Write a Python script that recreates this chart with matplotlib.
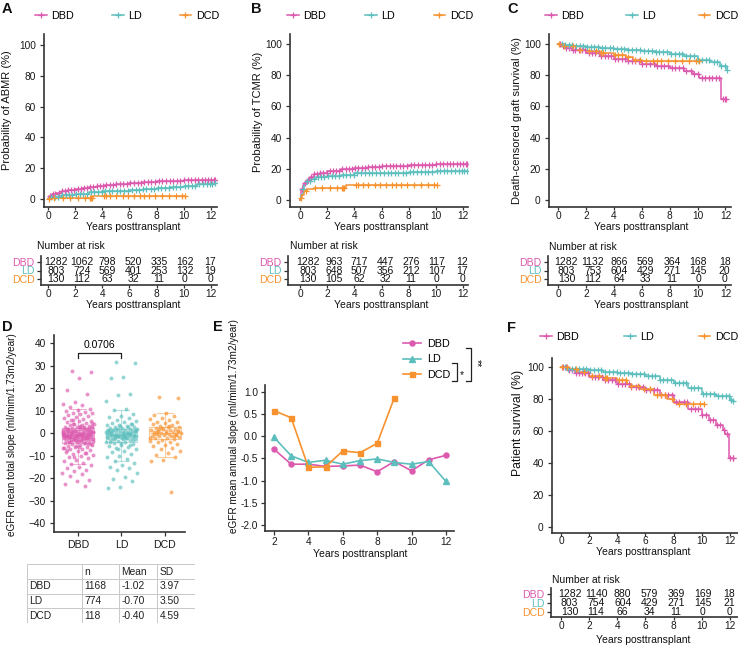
import numpy as np
import matplotlib
matplotlib.use("Agg")
import matplotlib.pyplot as plt
from matplotlib.lines import Line2D

plt.rcParams['font.family'] = ['Liberation Sans', 'DejaVu Sans']
FS = 7.5
W, H = 738, 645

GROUPS = ["DBD", "LD", "DCD"]
COLORS = ["#DC5AAE", "#5CBFBD", "#F7922F"]

# ---- KM curves: step times / values ----
A_T = [[0, 0.1, 0.3, 0.6, 1.0, 1.5, 2.0, 2.5, 3.0, 3.6, 4.2, 5.0, 6.0, 7.0, 8.0, 9.0, 10.0, 11.0, 12.3],
       [0, 0.2, 0.5, 1.0, 1.5, 2.0, 3.0, 4.0, 5.0, 6.0, 7.0, 8.0, 9.0, 10.0, 11.0, 12.3],
       [0, 0.3, 3.3, 10.1]]
A_S = [[0, 2.0, 3.0, 4.0, 5.0, 6.0, 6.8, 7.4, 8.0, 8.7, 9.3, 10.0, 10.5, 11.0, 11.5, 12.0, 12.3, 12.5, 12.5],
       [0, 1.0, 1.6, 2.3, 2.9, 3.5, 4.3, 5.0, 5.5, 6.0, 6.5, 7.1, 7.8, 8.6, 9.6, 10.2],
       [0, 0.8, 2.0, 2.0]]

B_T = [[0, 0.05, 0.1, 0.2, 0.3, 0.5, 0.7, 1.0, 1.5, 2.0, 3.0, 4.0, 5.0, 6.0, 8.0, 10.0, 12.3],
       [0, 0.05, 0.1, 0.2, 0.3, 0.5, 0.8, 1.2, 2.0, 3.0, 4.0, 6.0, 8.0, 10.0, 12.3],
       [0, 0.05, 0.15, 0.3, 0.5, 1.0, 1.5, 3.4, 10.1]]
B_S = [[0, 3, 7, 9.6, 11, 13, 15, 16.5, 17.6, 18.5, 19.6, 20.3, 21.0, 21.8, 22.5, 22.9, 23.1],
       [0, 1, 3, 7, 10, 12, 13.5, 14.5, 15.5, 16.3, 17.0, 17.6, 18.2, 18.8, 18.8],
       [0, 1.5, 3.0, 5.5, 7.0, 7.5, 8.0, 9.6, 9.6]]

C_T = [[0, 0.2, 0.5, 1.0, 2.0, 3.0, 4.0, 5.0, 6.0, 7.0, 8.0, 9.0, 9.7, 10.1, 11.65, 12.05],
       [0, 0.5, 1.1, 2.0, 3.0, 4.0, 5.0, 6.0, 7.0, 8.0, 9.0, 10.0, 10.9, 11.6, 12.1],
       [0, 0.3, 0.6, 1.3, 2.0, 3.0, 4.0, 4.9, 5.4, 6.0, 10.1]]
C_S = [[100, 98.5, 97.3, 96, 94.2, 92.5, 90.4, 88.9, 87.2, 85.7, 84.6, 83, 80.5, 78.5, 65, 65],
       [100, 99.3, 98.9, 98.2, 97.4, 96.9, 96.4, 95.3, 94.6, 93.6, 92.5, 89.9, 88.2, 85.7, 83.5],
       [100, 99, 98.5, 96.4, 95.3, 94.2, 93.1, 91.6, 89.9, 88.8, 88.8]]

F_T = [[0, 0.5, 1, 2, 3, 4, 5, 6, 7, 8, 9, 10, 10.5, 11, 11.5, 11.65, 11.95, 12.25],
       [0, 0.5, 1, 2, 3, 4, 5, 6, 7, 8, 9, 10, 11, 12, 12.25],
       [0, 0.6, 1.2, 2, 3, 4, 4.7, 5.0, 5.6, 6.6, 7.5, 8.0, 8.3, 10.15]]
F_S = [[100, 98.3, 96.5, 93.8, 91.7, 89.6, 87.5, 85.4, 82.3, 78.1, 74, 69.8, 67, 63.5, 60.4, 58, 43, 43],
       [100, 99, 98.5, 97.9, 97, 96.2, 95.5, 94.4, 92.1, 90, 87, 83.3, 81.7, 79.2, 78.5],
       [100, 99, 97, 94.4, 93.3, 91.7, 89.6, 87.9, 86.5, 82.3, 80.2, 77.5, 76.7, 76.7]]

# censoring times (same cohorts in every panel)
CENS = [[0.15, 0.35, 0.55, 0.8, 1.05, 1.25, 1.5, 1.7, 1.95, 2.2, 2.4, 2.65, 2.9, 3.1, 3.35, 3.6, 3.8,
         4.05, 4.3, 4.55, 4.8, 5.0, 5.3, 5.55, 5.8, 6.05, 6.3, 6.6, 6.85, 7.1, 7.35, 7.6, 7.9, 8.15,
         8.4, 8.7, 8.95, 9.2, 9.5, 9.75, 10.0, 10.3, 10.55, 10.8, 11.05, 11.3, 11.55, 11.8, 12.0, 12.2],
        [0.25, 0.5, 0.75, 1.0, 1.3, 1.55, 1.8, 2.05, 2.35, 2.6, 2.85, 3.15, 3.4, 3.7, 3.95, 4.2, 4.5,
         4.75, 5.05, 5.3, 5.6, 5.9, 6.15, 6.45, 6.7, 7.0, 7.25, 7.55, 7.8, 8.1, 8.35, 8.65, 8.9, 9.2,
         9.45, 9.75, 10.05, 10.3, 10.6, 10.85, 11.15, 11.4, 11.7, 11.95, 12.1],
        [0.1, 0.45, 1.1, 1.6, 2.2, 2.7, 3.1, 3.2, 3.25, 4.1, 4.3, 4.6, 5.0, 5.5, 5.9, 6.3, 6.8, 7.1,
         7.4, 7.9, 8.4, 8.9, 9.4, 9.9]]

RISK_T = [0, 2, 4, 6, 8, 10, 12]
A_RISK = [[1282, 1062, 798, 520, 335, 162, 17], [803, 724, 569, 401, 253, 132, 19], [130, 112, 63, 32, 11, 0, 0]]
B_RISK = [[1282, 963, 717, 447, 276, 117, 12], [803, 648, 507, 356, 212, 107, 17], [130, 105, 62, 32, 11, 0, 0]]
C_RISK = [[1282, 1132, 866, 569, 364, 168, 18], [803, 753, 604, 429, 271, 145, 20], [130, 112, 64, 33, 11, 0, 0]]
F_RISK = [[1282, 1140, 880, 579, 369, 169, 18], [803, 754, 604, 429, 271, 145, 21], [130, 114, 66, 34, 11, 0, 0]]

# ---- D: eGFR total slope per patient ----
DBD_SLOPE = [27.6, 27.1, 24.3, 19.2, 17.4, 13.6, 13.1, 12.4, 11.7, 10.9, 10.4, 10.0, 9.5, 9.1, 8.7, 8.3, 7.9, 7.4, 7.0, 6.6,
             6.2, 5.9, 5.5, 5.2, 4.8, 4.5, 4.2, 3.9, 3.6, 3.4, 3.1, 2.9, 2.7, 2.5, 2.3, 2.1, 1.9, 1.8, 1.6, 1.5,
             1.3, 1.2, 1.0, 0.9, 0.8, 0.6, 0.5, 0.4, 0.3, 0.2, 0.1, 0.0, -0.1, -0.2, -0.3, -0.4, -0.5, -0.6, -0.7, -0.8,
             -0.9, -1.0, -1.1, -1.2, -1.3, -1.4, -1.5, -1.6, -1.7, -1.8, -1.9, -2.0, -2.1, -2.2, -2.3, -2.4, -2.5, -2.7, -2.8, -3.0,
             -3.1, -3.3, -3.5, -3.6, -3.8, -4.0, -4.2, -4.4, -4.6, -4.9, -5.1, -5.4, -5.7, -6.0, -6.3, -6.6, -7.0, -7.3, -7.7, -8.1,
             -8.5, -8.9, -9.3, -9.8, -10.3, -10.8, -11.3, -11.9, -12.5, -13.1, -13.7, -14.3, -15.0, -15.6, -16.3, -17.0, -17.6, -18.3,
             -19.1, -21.0, -21.5, -22.7, -23.6,
             4.0, 3.3, 2.6, 2.0, 1.4, 0.95, 0.55, 0.15, -0.25, -0.65, -1.05, -1.45, -1.85, -2.25, -2.65, -3.2, -3.9, -4.7, -5.6, -6.8,
             2.2, 1.1, 0.35, -0.45, -1.25, -2.05, -2.95, -0.05, -0.85, -1.65, 0.7, -3.4, 1.7, -4.3,
             5.7, 4.4, 3.0, 1.0, -0.35, -1.15, -1.95, -2.6, -3.7, -5.0, -6.2, -7.5, -9.0, -10.6, 0.45, -0.75, -1.55, 2.4]
LD_SLOPE = [31.5, 31.1, 24.8, 24.4, 17.4, 17.0, 14.1, 10.6, 10.2, 8.6, 7.8, 7.2, 6.6, 6.0, 5.5, 5.0, 4.6, 4.2, 3.8, 3.5,
            3.2, 2.9, 2.6, 2.4, 2.2, 2.0, 1.8, 1.6, 1.4, 1.2, 1.0, 0.9, 0.7, 0.6, 0.4, 0.3, 0.1, 0.0, -0.1, -0.3,
            -0.4, -0.5, -0.7, -0.8, -0.9, -1.0, -1.2, -1.3, -1.4, -1.5, -1.7, -1.8, -1.9, -2.1, -2.2, -2.4, -2.6, -2.8, -3.0, -3.2,
            -3.5, -3.8, -4.1, -4.4, -4.8, -5.2, -5.6, -6.1, -6.6, -7.2, -7.8, -8.5, -9.2, -10.0, -10.8, -11.6, -12.4, -13.3, -14.2, -15.0,
            -15.6, -16.4, -17.6, -19.4, -20.5, -21.1, -23.9, -24.3,
            2.7, 1.9, 1.1, 0.5, -0.2, -0.6, -1.1, -1.6, -2.0, -2.5, -3.3, -4.6, 0.25, -0.35, -1.35, 1.5, -0.95, 0.8,
            4.0, 3.0, 1.3, -0.05, -0.75, -1.45, -2.3, -3.9, -5.4, -7.0, 0.65, -1.75]
DCD_SLOPE = [15.9, 15.6, 8.8, 8.1, 7.4, 6.8, 6.1, 5.6, 5.1, 4.7, 4.3, 3.9, 3.5, 3.2, 2.9, 2.6, 2.3, 2.0, 1.8, 1.5,
             1.3, 1.1, 0.9, 0.7, 0.5, 0.3, 0.1, -0.1, -0.3, -0.5, -0.7, -0.9, -1.1, -1.3, -1.5, -1.8, -2.1, -2.4, -2.7, -3.0,
             -3.4, -3.8, -4.2, -4.7, -5.2, -5.8, -6.5, -7.3, -8.0, -8.7, -9.6, -10.6, -12.1, -12.6, -26.4,
             1.6, 0.8, 0.0, -0.6, -1.2, 2.4, -2.0, 3.0, 0.4, -0.4]
D_PVAL = "0.0706"

TABLE_HEAD = ["", "n", "Mean", "SD"]
TABLE_ROWS = [["DBD", "1168", "-1.02", "3.97"],
              ["LD", "774", "-0.70", "3.50"],
              ["DCD", "118", "-0.40", "4.59"]]

# ---- E: mean annual slope by year ----
E_YEARS = [[2, 3, 4, 5, 6, 7, 8, 9, 10, 11, 12],
           [2, 3, 4, 5, 6, 7, 8, 9, 10, 11, 12],
           [2, 3, 4, 5, 6, 7, 8, 9]]
E_VALS = [[-0.29, -0.63, -0.63, -0.68, -0.67, -0.65, -0.80, -0.57, -0.78, -0.53, -0.43],
          [-0.02, -0.44, -0.59, -0.54, -0.63, -0.55, -0.51, -0.59, -0.63, -0.57, -1.02],
          [0.58, 0.42, -0.70, -0.69, -0.33, -0.37, -0.16, 0.87]]
E_MARKERS = ["o", "^", "s"]

fig = plt.figure(figsize=(W / 100, H / 100), dpi=100)
over = fig.add_axes([0, 0, 1, 1])
over.set_xlim(0, W)
over.set_ylim(H, 0)
over.axis("off")
over.patch.set_alpha(0)


def add_ax(l, t, r, b):
    return fig.add_axes([l / W, 1 - b / H, (r - l) / W, (b - t) / H])


def ptext(x, y, s, **kw):
    kw.setdefault("fontsize", FS)
    kw.setdefault("va", "center")
    kw.setdefault("color", "#111111")
    over.text(x, y, s, **kw)


def style(ax, pad=1.5):
    for s in ["top", "right"]:
        ax.spines[s].set_visible(False)
    for s in ["left", "bottom"]:
        ax.spines[s].set_color("#333333")
        ax.spines[s].set_linewidth(1.2)
    ax.tick_params(length=3, width=0.9, color="#333333", labelsize=7.3, pad=pad, labelcolor="#1a1a1a")


def km_panel(letter, letter_xy, box, xlim, ylim, T, S, ylabel, ylab_xy, ylab_fs, ptxt, p_xy,
             leg_l, leg_r, leg_y, rbox, rylim, risk, title_xy, xlab_y, rxlab_y, xlab_x, xpad=0.5):
    ax = add_ax(*box)
    style(ax)
    ax.tick_params(axis="y", pad=3)
    ax.tick_params(axis="x", pad=xpad, length=2.5)
    for i in range(3):
        t = np.asarray(T[i], float)
        s = np.asarray(S[i], float)
        ax.step(t, s, where="post", color=COLORS[i], lw=1.1, zorder=3)
        c = np.array([x for x in CENS[i] if x < t[-1]] + [t[-1]])
        idx = np.searchsorted(t, c, side="right") - 1
        ax.plot(c, s[idx], ls="none", marker="+", ms=5, mew=0.9, color=COLORS[i], zorder=4)
    ax.set_xlim(*xlim)
    ax.set_ylim(*ylim)
    ax.set_xticks(RISK_T)
    ax.set_yticks([0, 20, 40, 60, 80, 100])
    ptext(ylab_xy[0], ylab_xy[1], ylabel, rotation=90, ha="center", fontsize=ylab_fs)
    ptext(xlab_x, xlab_y, "Years posttransplant", ha="center")
    ptext(p_xy[0], p_xy[1], ptxt, ha="left", fontsize=7.8)
    ptext(letter_xy[0], letter_xy[1], letter, ha="left", fontsize=10.5, fontweight="bold")
    handles = [Line2D([0], [0], color=COLORS[i], lw=1.1, marker="+", ms=5, mew=0.9) for i in range(3)]
    fig.legend(handles, GROUPS, ncol=3, mode="expand", loc="center left",
               bbox_to_anchor=(leg_l / W, 1 - leg_y / H, (leg_r - leg_l) / W, 0),
               frameon=False, fontsize=7.8, handlelength=1.1, handletextpad=0.4,
               borderaxespad=0, borderpad=0, columnspacing=0.5)
    # number at risk table
    rax = add_ax(*rbox)
    style(rax)
    rax.tick_params(axis="x", pad=0.3, length=2.5)
    rax.set_xlim(xlim[0] + (rbox[0] - box[0]) * (xlim[1] - xlim[0]) / (box[2] - box[0]), xlim[1])
    rax.set_ylim(*rylim)
    rax.set_xticks(RISK_T)
    rax.set_yticks([3, 2, 1])
    rax.set_yticklabels(GROUPS)
    for lab, col in zip(rax.get_yticklabels(), COLORS):
        lab.set_color(col)
        lab.set_fontsize(7.6)
    for i in range(3):
        for t, n in zip(RISK_T, risk[i]):
            rax.text(0.6 + t * 0.945, 3 - i, str(n), ha="center", va="center", fontsize=7.5, color="#111111")
    ptext(title_xy[0], title_xy[1], "Number at risk", ha="left")
    ptext(xlab_x, rxlab_y, "Years posttransplant", ha="center")
    return ax


km_panel("A", (2, 9), (44, 34, 217, 207), (-0.29, 12.44), (-5.2, 107.1), A_T, A_S,
         "Probability of ABMR (%)", (7, 110), 8.0, "p = 0.0016", (48, 153),
         35, 219, 16, (41, 256, 217, 285), (0.3, 3.7), A_RISK, (37, 246), 227, 305, 133)
km_panel("B", (251, 9), (290, 34, 468, 207), (-0.74, 12.37), (-4.5, 106.4), B_T, B_S,
         "Probability of TCMR (%)", (258, 112), 8.0, "p = 0.0076", (307, 133),
         287, 473, 16, (288, 256, 468, 285), (0.3, 3.7), B_RISK, (290, 246), 227, 305, 381)
km_panel("C", (507, 9), (549, 34, 731, 207), (-0.65, 12.4), (-4.5, 106.4), C_T, C_S,
         "Death-censored graft survival (%)", (517, 121), 8.0, "p < 0.0001", (560, 171),
         545, 738, 16, (548, 256, 731, 285), (0.3, 3.7), C_RISK, (549, 247), 227, 305, 641)
km_panel("F", (507, 328), (552, 358, 738, 533), (-0.64, 12.57), (-3.75, 105.6), F_T, F_S,
         "Patient survival (%)", (518, 423), 8.8, "p < 0.0001", (563, 496),
         540, 738, 337, (551, 588, 738, 617), (0.44, 3.67), F_RISK, (552, 580), 552, 640, 643, xpad=0)

# ---- D ----
axd = add_ax(54, 335, 185, 532)
style(axd)
slopes = [DBD_SLOPE, LD_SLOPE, DCD_SLOPE]
bp = axd.boxplot(slopes, positions=[1, 2, 3], widths=0.72, showfliers=False, patch_artist=False,
                 whis=1.5, zorder=1)
for i in range(3):
    for key, n in (("boxes", 1), ("medians", 1), ("whiskers", 2), ("caps", 2)):
        for art in bp[key][i * n:(i + 1) * n]:
            art.set_color(COLORS[i])
            art.set_alpha(0.45)
            art.set_linewidth(0.8)
for i, vals in enumerate(slopes):
    k = np.arange(len(vals))
    jit = 0.36 * (2 * ((k * 0.6180339887 + 0.31) % 1.0) - 1)
    axd.scatter(i + 1 + jit, vals, s=8, color=COLORS[i], alpha=0.65, linewidths=0, zorder=2)
axd.plot([1, 1, 2, 2], [33.3, 35.6, 35.6, 33.3], color="#222222", lw=0.9)
axd.text(1.5, 39.2, D_PVAL, ha="center", va="center", fontsize=FS)
axd.set_xlim(0.45, 3.46)
axd.set_ylim(-44, 43.6)
axd.set_xticks([1, 2, 3])
axd.set_xticklabels(GROUPS)
axd.set_yticks(range(-40, 41, 10))
axd.tick_params(axis="x", pad=3, labelsize=7.6)
axd.tick_params(axis="y", pad=3)
ptext(12, 435, "eGFR mean total slope (ml/mim/1.73m2/year)", rotation=90, ha="center", fontsize=7.2)
ptext(2, 327, "D", ha="left", fontsize=10.5, fontweight="bold")

# table under D
tax = add_ax(27, 564, 195, 623)
tax.set_xlim(27, 195)
tax.set_ylim(623, 564)
tax.axis("off")
col_x = [27, 82, 119, 157, 195]
row_y = [564, 579, 593.5, 608, 623]
tax.hlines(row_y, col_x[0], col_x[-1], color="#C8C8C8", lw=0.7)
tax.vlines(col_x, row_y[0], row_y[-1], color="#C8C8C8", lw=0.7)
for r, row in enumerate([TABLE_HEAD] + TABLE_ROWS):
    for c, val in enumerate(row):
        tax.text(col_x[c] + 2.5, (row_y[r] + row_y[r + 1]) / 2, val, ha="left", va="center",
                 fontsize=7.4, color="#222222")

# ---- E ----
axe = add_ax(265, 385, 454, 531)
style(axe)
axe.tick_params(axis="y", pad=2)
lines = []
for i in range(3):
    ln, = axe.plot(E_YEARS[i], E_VALS[i], color=COLORS[i], lw=1.2, marker=E_MARKERS[i],
                   ms=3.6 if i != 1 else 4.2, zorder=3)
    lines.append(ln)
axe.set_xlim(1.48, 12.47)
axe.set_ylim(-2.14, 1.16)
axe.set_xticks([2, 4, 6, 8, 10, 12])
axe.set_yticks([-2.0, -1.5, -1.0, -0.5, 0.0, 0.5, 1.0])
axe.set_yticklabels(["%.1f" % v for v in [-2.0, -1.5, -1.0, -0.5, 0.0, 0.5, 1.0]])
ptext(360, 554, "Years posttransplant", ha="center")
ptext(234, 426, "eGFR mean annual slope (ml/mim/1.73m2/year)", rotation=90, ha="center", fontsize=7.2)
ptext(213, 327, "E", ha="left", fontsize=10.5, fontweight="bold")
fig.legend(lines, GROUPS, loc="upper left", bbox_to_anchor=(403 / W, 1 - 339 / H), frameon=False,
           fontsize=7.8, handlelength=1.7, handletextpad=0.5, labelspacing=0.5, borderpad=0,
           borderaxespad=0)
# significance brackets
over.plot([452, 457, 457, 452], [363, 363, 381, 381], color="#222222", lw=0.9)
over.plot([466, 471, 471, 466], [348, 348, 381, 381], color="#222222", lw=0.9)
ptext(462, 375, "*", ha="center", fontsize=FS)
ptext(477, 363, "**", ha="center", rotation=-90, fontsize=FS)

fig.savefig("out.png", dpi=100)
